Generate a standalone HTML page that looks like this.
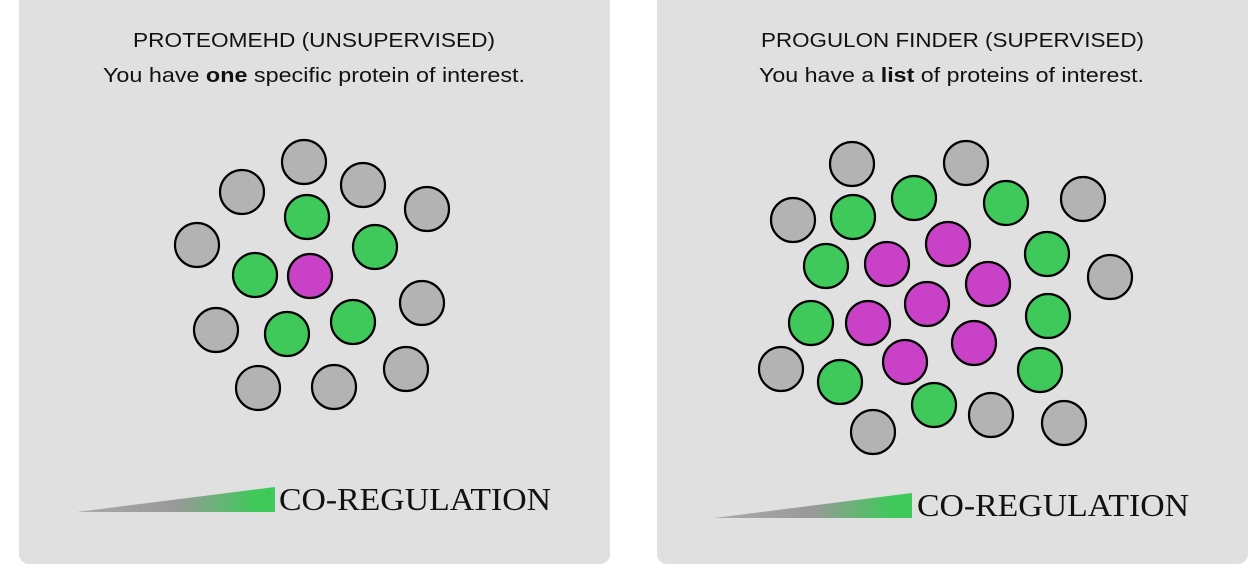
<!DOCTYPE html>
<html><head><style>
body{margin:0;width:1255px;height:565px;background:#fff;position:relative;overflow:hidden;font-family:"Liberation Sans",sans-serif;}
.p{position:absolute;top:-12px;height:576px;width:591px;background:#e0e0e0;border-radius:10px;}
</style></head><body>
<div class="p" style="left:19px"></div>
<div class="p" style="left:657px"></div>
<svg width="1255" height="565" style="position:absolute;left:0;top:0">
<defs><linearGradient id="g" x1="0" x2="1"><stop offset="0" stop-color="#aaa"/><stop offset="0.5" stop-color="#999"/><stop offset="0.9" stop-color="#3ec95a"/><stop offset="1" stop-color="#3ec95a"/></linearGradient></defs>
<g font-family="Liberation Sans,sans-serif" font-size="20" fill="#111">
<text x="133" y="47" textLength="362" lengthAdjust="spacingAndGlyphs">PROTEOMEHD (UNSUPERVISED)</text>
<text x="103" y="82" textLength="422" lengthAdjust="spacingAndGlyphs">You have <tspan font-weight="bold">one</tspan> specific protein of interest.</text>
<text x="761" y="47" textLength="383" lengthAdjust="spacingAndGlyphs">PROGULON FINDER (SUPERVISED)</text>
<text x="759" y="82" textLength="385" lengthAdjust="spacingAndGlyphs">You have a <tspan font-weight="bold">list</tspan> of proteins of interest.</text>
</g>
<polygon points="77,512 275,487 275,512" fill="url(#g)"/>
<polygon points="714,518 912,493 912,518" fill="url(#g)"/>
<g stroke="#000" stroke-width="2.2">
<g fill="#b3b3b3">
<circle cx="304" cy="162" r="22"/><circle cx="242" cy="192" r="22"/><circle cx="363" cy="185" r="22"/><circle cx="427" cy="209" r="22"/><circle cx="197" cy="245" r="22"/><circle cx="422" cy="303" r="22"/><circle cx="216" cy="330" r="22"/><circle cx="258" cy="388" r="22"/><circle cx="334" cy="387" r="22"/><circle cx="406" cy="369" r="22"/>
<circle cx="852" cy="164" r="22"/><circle cx="966" cy="163" r="22"/><circle cx="1083" cy="199" r="22"/><circle cx="793" cy="220" r="22"/><circle cx="1110" cy="277" r="22"/><circle cx="781" cy="369" r="22"/><circle cx="873" cy="432" r="22"/><circle cx="991" cy="415" r="22"/><circle cx="1064" cy="423" r="22"/>
</g>
<g fill="#3ec95a">
<circle cx="307" cy="217" r="22"/><circle cx="375" cy="247" r="22"/><circle cx="255" cy="275" r="22"/><circle cx="287" cy="334" r="22"/><circle cx="353" cy="322" r="22"/>
<circle cx="914" cy="198" r="22"/><circle cx="1006" cy="203" r="22"/><circle cx="853" cy="217" r="22"/><circle cx="826" cy="266" r="22"/><circle cx="1047" cy="254" r="22"/><circle cx="811" cy="323" r="22"/><circle cx="1048" cy="316" r="22"/><circle cx="840" cy="382" r="22"/><circle cx="934" cy="405" r="22"/><circle cx="1040" cy="370" r="22"/>
</g>
<g fill="#c841c6">
<circle cx="310" cy="276" r="22"/>
<circle cx="948" cy="244" r="22"/><circle cx="887" cy="264" r="22"/><circle cx="988" cy="284" r="22"/><circle cx="927" cy="304" r="22"/><circle cx="868" cy="323" r="22"/><circle cx="974" cy="343" r="22"/><circle cx="905" cy="362" r="22"/>
</g></g>
<text x="279" y="510" font-family="Liberation Serif,serif" font-size="32" textLength="272" lengthAdjust="spacingAndGlyphs" fill="#111">CO-REGULATION</text>
<text x="917" y="516" font-family="Liberation Serif,serif" font-size="32" textLength="272" lengthAdjust="spacingAndGlyphs" fill="#111">CO-REGULATION</text>
</svg>
</body></html>
